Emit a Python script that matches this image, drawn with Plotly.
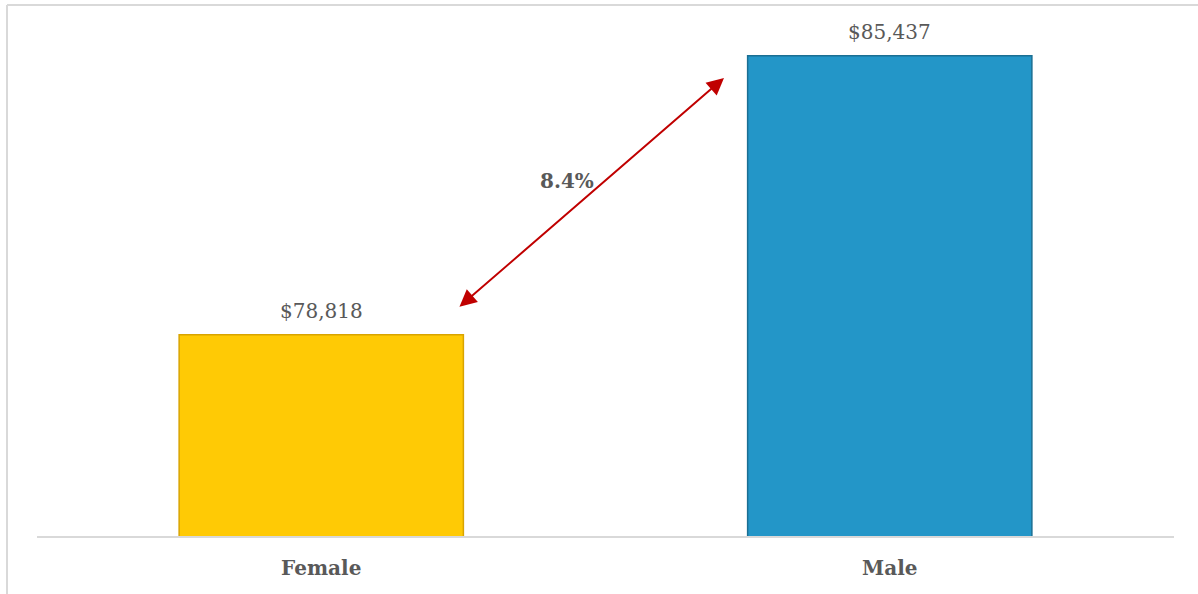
import plotly.graph_objects as go

# Average salary by gender
categories = ["Female", "Male"]
salaries = [78818, 85437]
value_labels = ["$78,818", "$85,437"]
gap_label = "8.4%"

bar_colors = ["#FFCA05", "#2396C8"]
edge_colors = ["#D9A400", "#1B6F93"]
text_color = "#595959"
serif = "DejaVu Serif"

fig = go.Figure(
    go.Bar(
        x=categories,
        y=salaries,
        width=0.5,
        marker=dict(color=bar_colors, line=dict(color=edge_colors, width=1.5)),
        hoverinfo="skip",
    )
)

# Value labels above each bar
for cat, val, lab in zip(categories, salaries, value_labels):
    fig.add_annotation(
        x=cat, y=val, text=lab, showarrow=False,
        yanchor="bottom", yshift=10,
        font=dict(family=serif, size=20, color=text_color),
    )

# Double-headed arrow between the two bar tops, with the gap percentage
fig.add_annotation(
    x=0.6042, y=0.9124, xref="paper", yref="paper",
    ax=-266, ay=230, axref="pixel", ayref="pixel",
    showarrow=True, arrowhead=2, startarrowhead=2, arrowside="end+start",
    arrowsize=1.7, startarrowsize=1.7, arrowwidth=2, arrowcolor="#C00000",
    standoff=0, startstandoff=0, text="",
)
fig.add_annotation(
    x=0.4661, y=0.735, xref="paper", yref="paper",
    text="<b>" + gap_label + "</b>", showarrow=False,
    font=dict(family=serif, size=20, color=text_color),
)

# Chart frame (left and top edges)
frame = dict(color="#D9D9D9", width=2)
fig.add_shape(type="line", xref="paper", yref="paper",
              x0=-0.0264, x1=-0.0264, y0=-0.13, y1=1.058, line=frame)
fig.add_shape(type="line", xref="paper", yref="paper",
              x0=-0.0264, x1=1.03, y0=1.058, y1=1.058, line=frame)

fig.update_layout(
    width=1198, height=594,
    margin=dict(l=37, r=24, t=34, b=58),
    paper_bgcolor="white", plot_bgcolor="white",
    showlegend=False,
    bargap=0.5,
    xaxis=dict(
        showline=True, linecolor="#D9D9D9", linewidth=2,
        showgrid=False, ticks="", ticklabelstandoff=13,
        tickfont=dict(family=serif, size=20, color=text_color, weight="bold"),
    ),
    yaxis=dict(
        range=[74050, 85950], visible=False, showgrid=False, zeroline=False,
    ),
)

fig.write_html("out.html")
